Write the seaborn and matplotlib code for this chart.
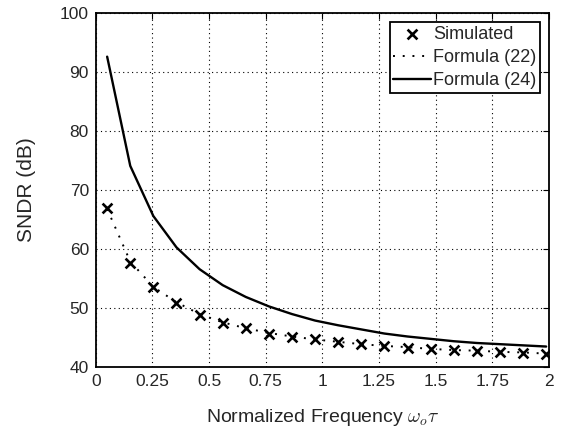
import numpy as np
import pandas as pd
import matplotlib
matplotlib.use('Agg')
import matplotlib.pyplot as plt
import seaborn as sns

# Values
freq = [0.05, 0.152, 0.254, 0.356, 0.458, 0.56, 0.662, 0.764, 0.866, 0.968,
        1.07, 1.172, 1.274, 1.376, 1.478, 1.58, 1.682, 1.784, 1.886, 1.988]
simulated = [67.0, 57.7, 53.5, 50.9, 48.9, 47.5, 46.6, 45.7, 45.1, 44.7,
             44.2, 43.9, 43.6, 43.3, 43.1, 42.9, 42.7, 42.6, 42.4, 42.3]
formula22 = [66.8, 57.9, 53.6, 51.0, 49.0, 47.6, 46.6, 45.8, 45.2, 44.7,
             44.3, 43.9, 43.6, 43.4, 43.1, 42.9, 42.8, 42.6, 42.5, 42.3]
formula24 = [92.6, 74.1, 65.6, 60.3, 56.6, 53.9, 51.9, 50.3, 49.0, 47.9,
             47.1, 46.4, 45.7, 45.2, 44.8, 44.4, 44.1, 43.9, 43.7, 43.5]
xticks = [0, 0.25, 0.5, 0.75, 1, 1.25, 1.5, 1.75, 2]
xticklabels = ['0', '0.25', '0.5', '0.75', '1', '1.25', '1.5', '1.75', '2']

df = pd.DataFrame({'freq': freq, 'sim': simulated, 'f22': formula22, 'f24': formula24})

sns.set_style('white')
plt.rcParams['font.family'] = ['Liberation Sans', 'DejaVu Sans']
plt.rcParams['mathtext.fontset'] = 'cm'

fig = plt.figure(figsize=(5.67, 4.32), dpi=100)
ax = fig.add_axes([0.169, 0.15, 0.799, 0.82])

sns.scatterplot(data=df, x='freq', y='sim', marker='x', s=50, color='black',
                linewidth=1.9, label='Simulated', ax=ax, zorder=3)
sns.lineplot(data=df, x='freq', y='f22', color='black', linestyle=(0, (1, 4)),
             linewidth=1.4, label='Formula (22)', ax=ax)
sns.lineplot(data=df, x='freq', y='f24', color='black', linestyle='-',
             linewidth=1.7, label='Formula (24)', ax=ax)

ax.set_xlim(0, 2)
ax.set_ylim(40, 100)
ax.set_xticks(xticks)
ax.set_xticklabels(xticklabels)
ax.set_yticks(range(40, 101, 10))
ax.grid(True, color='black', linestyle=(0, (1, 3)), linewidth=0.8)
ax.tick_params(direction='in', top=True, right=True, length=4, labelsize=12.5,
               color='black', pad=5)
for s in ax.spines.values():
    s.set_color('black')
    s.set_linewidth(1.3)

ax.set_xlabel(r'Normalized Frequency $\omega_o\tau$', fontsize=14, labelpad=13)
ax.set_ylabel('SNDR (dB)', fontsize=15, labelpad=17)

leg = ax.legend(loc='upper right', fontsize=13, frameon=True, fancybox=False,
                handlelength=2.1, handletextpad=0.1, borderpad=0.2,
                labelspacing=0.35, borderaxespad=0.5)
leg.get_frame().set_edgecolor('black')
leg.get_frame().set_linewidth(1.3)
leg.get_frame().set_alpha(1)

fig.savefig('out.png', dpi=100)
